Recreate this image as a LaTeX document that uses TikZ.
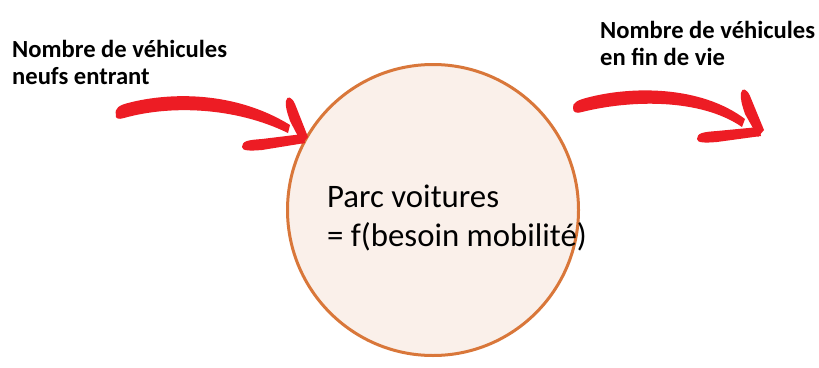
\documentclass[tikz,border=0pt]{standalone}
\usepackage{fontspec}
\setmainfont{Carlito}
\definecolor{brushred}{HTML}{ED1C24}
\definecolor{circfill}{HTML}{FAF0EA}
\definecolor{circline}{HTML}{D9773A}
\begin{document}
\begin{tikzpicture}[x=1pt,y=-1pt,
  lbl/.style={font=\fontsize{24.6}{27.5}\selectfont\bfseries, align=left, inner sep=0pt, anchor=north west},
  brush/.style={fill=brushred, draw=none}]
\useasboundingbox (0,0) rectangle (819,367);
\fill[white] (0,0) rectangle (819,367);
% circle
\node[circle, draw=circline, line width=3pt, fill=circfill, minimum size=291pt, inner sep=0pt] (parc) at (433,210) {};
\node[font=\fontsize{32.8}{39}\selectfont, align=left, inner sep=0pt, anchor=north west] (ptext) at (327,185) {Parc voitures\\= f(besoin mobilité)};
% labels
\node[lbl] (inlbl) at (12,40) {Nombre de véhicules\\neufs entrant};
\node[lbl] (outlbl) at (600,21) {Nombre de véhicules\\en fin de vie};
% left arrow
\coordinate (la) at (116,115);
\coordinate (lt) at (304,140);
\fill[brush] (la) .. controls (114,108) and (120,105) .. (128,103)
  .. controls (170,92) and (235,91) .. (290,125)
  -- (288,133) .. controls (235,107) and (170,105) .. (124,118)
  .. controls (118,120) and (115,118) .. (la) -- cycle;
\fill[brush] (286,101) .. controls (287,95) and (292,97) .. (295,104)
  -- (308,137) -- (302,144) -- (290,121)
  .. controls (287,112) and (285,106) .. (286,101) -- cycle;
\fill[brush] (242,147) .. controls (242,141) and (248,140) .. (262,139)
  -- (303,134) -- (305,143) -- (262,150)
  .. controls (250,151) and (242,151) .. (242,147) -- cycle;
% right arrow
\coordinate (ra) at (573,108);
\coordinate (rt) at (760,133);
\fill[brush] (ra) .. controls (572,103) and (578,100) .. (586,98)
  .. controls (630,86) and (700,85) .. (745,119)
  -- (742,127) .. controls (700,98) and (630,100) .. (582,112)
  .. controls (576,114) and (573,112) .. (ra) -- cycle;
\fill[brush] (741,93) .. controls (742,87) and (747,89) .. (750,96)
  -- (764,130) -- (758,137) -- (745,114)
  .. controls (742,105) and (740,98) .. (741,93) -- cycle;
\fill[brush] (697,139) .. controls (697,133) and (703,132) .. (717,131)
  -- (759,127) -- (761,136) -- (717,142)
  .. controls (705,143) and (697,143) .. (697,139) -- cycle;
\end{tikzpicture}
\end{document}
